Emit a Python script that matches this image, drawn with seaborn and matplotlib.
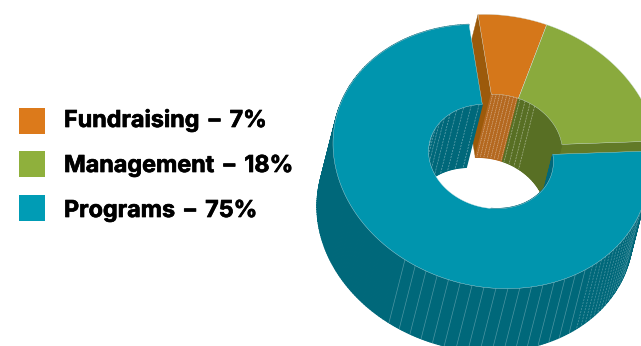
#!/usr/bin/env python3

import numpy as np
import pandas as pd
import seaborn as sns
import matplotlib.pyplot as plt
import matplotlib.patheffects as pe

categories = ['Fundraising', 'Management', 'Programs']
shares = [7, 18, 75]

face_colors = ['#D5771A', '#8AAA3D', '#0095AE']
swatch_colors = ['#DC7A1B', '#8FB03C', '#009CB5']
radial_colors = ['#9C5A0B', '#627A28', '#00687A']
inner_colors = ['#B4681F', '#586F24', '#00687A']

# projection of the ring on the canvas (pixels)
CX, CY = 491, 156.5
AX, AY, BY = 158, 13, 131.5
HOLE = 0.395
DEPTH = (-16, 63)
EXPLODE = (9, -10)
START = 98


def ring(t, r=1.0, off=(0, 0)):
    t = np.radians(t)
    x = CX + off[0] + r * AX * np.cos(t)
    y = CY + off[1] + r * (AY * np.cos(t) - BY * np.sin(t))
    return x, y


def shift(off, other=DEPTH):
    return (off[0] + other[0], off[1] + other[1])


def draw_wall(ax, t0, t1, r, off, color):
    # one small quad per step so the fold at the silhouette stays filled
    ts = np.linspace(t0, t1, int(abs(t1 - t0)) + 2)
    for a, b in zip(ts[:-1], ts[1:]):
        xa, ya = ring(np.array([a, b]), r, off)
        xb, yb = ring(np.array([b, a]), r, shift(off))
        ax.fill(np.r_[xa, xb], np.r_[ya, yb], color=color, lw=0.9)


def draw_radial(ax, t, off, color):
    x0, y0 = ring(np.array([t, t]), np.array([HOLE, 1.0]), off)
    x1, y1 = ring(np.array([t, t]), np.array([1.0, HOLE]), shift(off))
    ax.fill(np.r_[x0, x1], np.r_[y0, y1], color=color, lw=0.3)


def draw_face(ax, t0, t1, off, color):
    ts = np.linspace(t0, t1, 200)
    xo, yo = ring(ts, 1.0, off)
    xi, yi = ring(ts[::-1], HOLE, off)
    ax.fill(np.r_[xo, xi], np.r_[yo, yi], facecolor=color,
            edgecolor='#cfe3e6', lw=0.25)


def draw_seams(ax, ts, r, off, alpha=0.35, dashes=None):
    # zorder 1 keeps the lines in paint order with the filled patches
    for t in ts:
        x0, y0 = ring(t, r, off)
        x1, y1 = ring(t, r, shift(off))
        line, = ax.plot([x0, x1], [y0, y1], color='white', lw=0.5, alpha=alpha, zorder=1)
        if dashes:
            line.set_dashes(dashes)


sns.set_theme(style='white')
plt.rcParams['font.family'] = ['Inter', 'DejaVu Sans']

fig, ax = plt.subplots(figsize=(6.41, 3.46), dpi=100)
fig.subplots_adjust(0, 0, 1, 1)
ax.set_xlim(0, 641)
ax.set_ylim(346, 0)
ax.axis('off')

# slice angles come from the shares, clockwise from the top
sweep = np.array(shares) * 360 / sum(shares)
t_fund = START - sweep[0]
t_mgmt = t_fund - sweep[1]
t_prog = t_mgmt - sweep[2]

# programs, outer wall
draw_wall(ax, t_mgmt, t_prog, 1.0, (0, 0), radial_colors[2])
draw_seams(ax, np.arange(-123, -50, 4.35), 1.0, (0, 0), 0.3)
draw_seams(ax, np.arange(-50, -18, 2.2), 1.0, (0, 0), 0.3, (3, 1.5))

# exploded fundraising and management slices, end faces first
draw_radial(ax, START, EXPLODE, radial_colors[0])
draw_radial(ax, t_mgmt, EXPLODE, radial_colors[1])

# far side of the hole goes over the fundraising end face
draw_wall(ax, START, 180, HOLE, (0, 0), inner_colors[2])
draw_seams(ax, np.arange(101, 172, 7.5), HOLE, (0, 0), 0.4, (3, 1.5))

draw_wall(ax, START, t_fund, HOLE, EXPLODE, inner_colors[0])
draw_seams(ax, np.arange(t_fund + 1.5, START, 3.2), HOLE, EXPLODE, 0.5, (1.6, 1))
draw_wall(ax, t_fund, t_mgmt, HOLE, EXPLODE, inner_colors[1])
draw_seams(ax, np.arange(t_fund - 1.5, t_fund - 20, -5), HOLE, EXPLODE, 0.45, (3, 1.2))
draw_face(ax, START, t_fund, EXPLODE, face_colors[0])
draw_face(ax, t_fund, t_mgmt, EXPLODE, face_colors[1])

# near side of the hole, only a sliver shows past the top face
draw_wall(ax, t_mgmt, -90, HOLE, (0, 0), inner_colors[2])
draw_face(ax, t_mgmt, t_prog, (0, 0), face_colors[2])

# legend
legend = pd.DataFrame({'category': categories, 'x': 32, 'y': [121, 164, 208]})
sns.scatterplot(data=legend, x='x', y='y', hue='category', hue_order=categories,
                palette=swatch_colors, marker='s', s=350, linewidth=0,
                legend=False, ax=ax)
for name, share, base in zip(categories, shares, [127, 172, 217]):
    label = ax.text(64, base, f'{name} \u2009\u2013\u2009 {share}%', fontsize=16.8,
                    fontweight='bold', color='black', va='baseline', ha='left')
    label.set_path_effects([pe.withStroke(linewidth=0.5, foreground='black')])

ax.set_xlim(0, 641)
ax.set_ylim(346, 0)
ax.set_xlabel('')
ax.set_ylabel('')
fig.savefig('out.png', dpi=100)
